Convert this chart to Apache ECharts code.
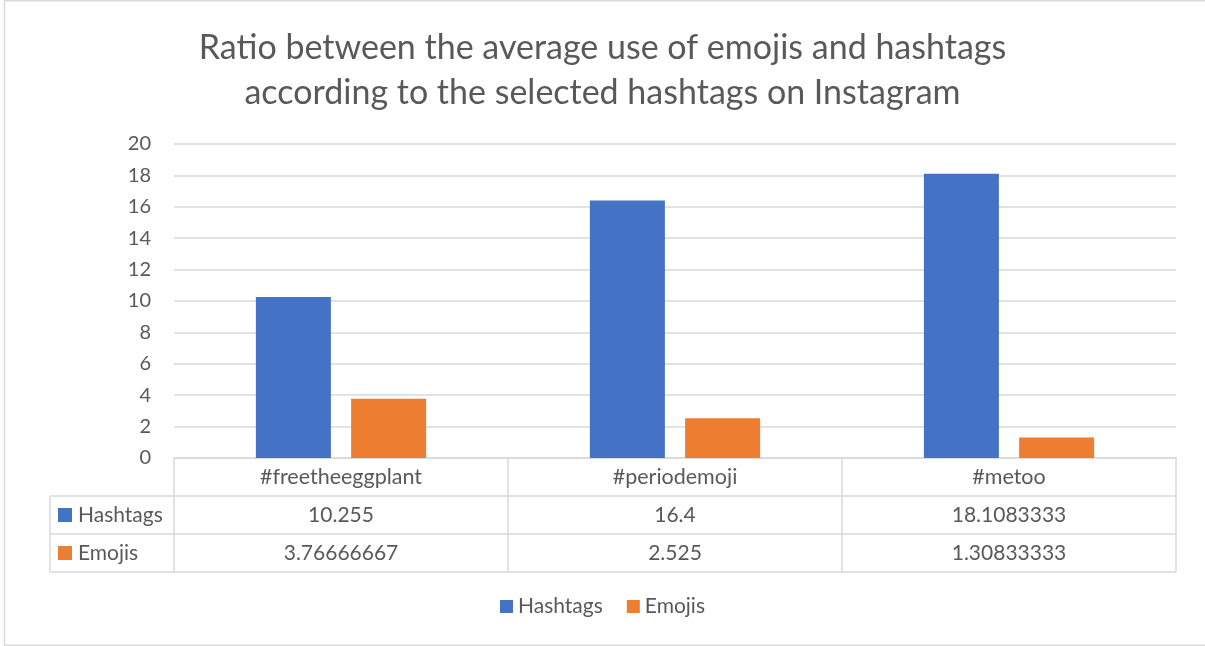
<!DOCTYPE html>
<html><head><meta charset="utf-8">
<script src="https://cdn.jsdelivr.net/npm/echarts@6/dist/echarts.min.js"></script>
<style>html,body{margin:0;padding:0;background:#fff}#c{width:1205px;height:646px}</style>
</head><body><div id="c"></div>
<script>
const categories = ['#freetheeggplant', '#periodemoji', '#metoo'];
const hashtags = [10.255, 16.4, 18.1083333];
const emojis = [3.76666667, 2.525, 1.30833333];
const hashtagLabels = ['10.255', '16.4', '18.1083333'];
const emojiLabels = ['3.76666667', '2.525', '1.30833333'];
const seriesNames = ['Hashtags', 'Emojis'];
const colors = ['#4472C4', '#ED7D31'];

const FONT = 'Lato, "Open Sans", sans-serif';
const TXT = '#595959';
const LINE = '#d9d9d9';

const chart = echarts.init(document.getElementById('c'), null, {renderer: 'canvas'});
const option = {
  animation: false,
  textStyle: {fontFamily: FONT},
  title: {
    text: 'Ratio between the average use of emojis and hashtags\naccording to the selected hashtags on Instagram',
    left: 'center', top: 21,
    textStyle: {fontSize: 34, fontWeight: 'normal', color: TXT, lineHeight: 45, fontFamily: FONT}
  },
  legend: {
    data: seriesNames, bottom: 24, left: 'center', icon: 'rect',
    itemWidth: 13, itemHeight: 13, itemGap: 24,
    textStyle: {fontSize: 21, color: TXT, fontFamily: FONT}
  },
  grid: {left: 174, right: 29, top: 144, bottom: 188, containLabel: false},
  xAxis: {
    type: 'category', data: categories,
    axisLine: {lineStyle: {color: LINE, width: 1.5}},
    axisTick: {show: true, length: 114, lineStyle: {color: LINE, width: 1.5}},
    axisLabel: {fontSize: 21.5, color: TXT, margin: 8, fontFamily: FONT}
  },
  yAxis: {
    type: 'value', min: 0, max: 20, interval: 2,
    axisLine: {show: false}, axisTick: {show: false},
    splitLine: {lineStyle: {color: LINE, width: 1.5}},
    axisLabel: {fontSize: 20, color: TXT, margin: 23, fontFamily: FONT}
  },
  series: [
    {name: seriesNames[0], type: 'bar', data: hashtags, barWidth: 75, barGap: '27%',
     itemStyle: {color: colors[0]}},
    {name: seriesNames[1], type: 'bar', data: emojis, barWidth: 75, barGap: '27%',
     itemStyle: {color: colors[1]}}
  ]
};
chart.setOption(option);

// Data table below the plot
const rows = [hashtagLabels, emojiLabels];
const left = 50, rowTop = [496, 534], rowH = 38;
const gridRight = 1176;
const elems = [];
// outer chart border
elems.push({type: 'line', shape: {x1: 4.5, y1: 0, x2: 4.5, y2: 645.5}, style: {stroke: LINE, lineWidth: 1.5}});
elems.push({type: 'line', shape: {x1: 4, y1: 0.75, x2: 1205, y2: 0.75}, style: {stroke: LINE, lineWidth: 1.5}});
elems.push({type: 'line', shape: {x1: 4, y1: 645.25, x2: 1205, y2: 645.25}, style: {stroke: LINE, lineWidth: 1.5}});
// horizontal row lines
[496, 534, 572].forEach(y => {
  elems.push({type: 'line', shape: {x1: left, y1: y, x2: gridRight, y2: y}, style: {stroke: LINE, lineWidth: 1.5}});
});
elems.push({type: 'line', shape: {x1: left, y1: 496, x2: left, y2: 572}, style: {stroke: LINE, lineWidth: 1.5}});
rows.forEach((vals, r) => {
  const yc = rowTop[r] + rowH / 2;
  elems.push({type: 'rect', shape: {x: 58, y: yc - 7, width: 14, height: 14}, style: {fill: colors[r]}});
  elems.push({type: 'text', x: 78, y: yc, style: {text: seriesNames[r], fontSize: 21, fill: TXT, fontFamily: FONT, verticalAlign: 'middle', align: 'left'}});
  vals.forEach((v, i) => {
    const p = chart.convertToPixel({xAxisIndex: 0}, categories[i]);
    elems.push({type: 'text', x: p, y: yc, style: {text: v, fontSize: 21, fill: TXT, fontFamily: FONT, verticalAlign: 'middle', align: 'center'}});
  });
});
chart.setOption({graphic: elems});
</script></body></html>
